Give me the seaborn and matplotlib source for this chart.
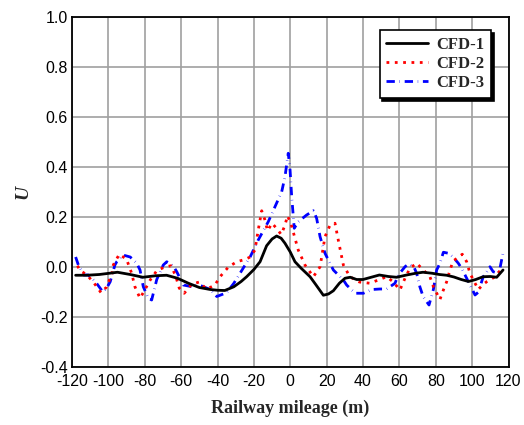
import numpy as np
import pandas as pd
import matplotlib
matplotlib.use("Agg")
import matplotlib.pyplot as plt
import seaborn as sns

# ---- data ----
x_cfd1 = [-118, -112, -105, -95, -88, -81, -74, -68, -62, -56, -50, -44, -40, -36, -31, -27, -24,
          -20, -16.6, -13, -10, -7.5, -5, -2.9, 0, 2.6, 6, 10.9, 14, 18.2, 21, 23.7, 27, 30.1, 33,
          36.5, 40, 44, 49, 54, 58.5, 64, 69, 73, 78, 82, 86, 90, 94, 98, 102, 106, 110, 113.5, 117]
y_cfd1 = [-0.033, -0.033, -0.030, -0.021, -0.030, -0.041, -0.035, -0.033, -0.045, -0.065, -0.082,
          -0.090, -0.093, -0.094, -0.079, -0.058, -0.039, -0.010, 0.021, 0.085, 0.112, 0.124, 0.115,
          0.095, 0.060, 0.021, -0.005, -0.039, -0.070, -0.113, -0.108, -0.095, -0.065, -0.045,
          -0.041, -0.050, -0.050, -0.042, -0.032, -0.038, -0.041, -0.032, -0.025, -0.021, -0.025,
          -0.030, -0.033, -0.040, -0.050, -0.058, -0.050, -0.039, -0.038, -0.041, -0.012]

x_cfd2 = [-117, -115.5, -112, -108, -104, -101, -98, -97.3, -94, -90, -87.2, -85.4, -82.6, -80,
          -77, -73.4, -69, -65.5, -63, -61, -58.3, -54.2, -50, -46, -41.4, -38.6, -34, -29.4, -25,
          -22, -19.4, -17.6, -15.7, -14, -12.5, -10, -7, -5, -3, -1.5, 0.5, 2.6, 4.4, 8.1, 12.7,
          16.4, 19.1, 21.9, 24.6, 26.4, 29.2, 32.8, 38, 43.8, 48.4, 53, 56.7, 60.3, 63.1, 65.8,
          69.5, 74.1, 76.8, 78.7, 82.3, 84.2, 86, 87.8, 89.6, 94.6, 97, 98.8, 101.6, 103.4, 106,
          108, 112.6, 117.1]
y_cfd2 = [0.005, -0.015, -0.030, -0.063, -0.103, -0.080, -0.025, 0.008, 0.051, 0.031, -0.025,
          -0.079, -0.125, -0.092, -0.052, -0.015, 0.000, 0.005, -0.036, -0.085, -0.105, -0.069,
          -0.060, -0.089, -0.072, -0.039, 0.000, 0.021, 0.030, 0.040, 0.068, 0.148, 0.225, 0.190,
          0.145, 0.175, 0.150, 0.130, 0.165, 0.205, 0.170, 0.115, 0.068, 0.008, -0.039, 0.001,
          0.121, 0.168, 0.175, 0.108, 0.008, -0.039, -0.060, -0.065, -0.052, -0.039, -0.060,
          -0.092, -0.045, -0.005, 0.015, -0.019, -0.039, -0.079, -0.130, -0.092, -0.059, -0.012,
          0.024, 0.051, 0.021, -0.025, -0.065, -0.090, -0.070, -0.059, -0.039, 0.001]

x_cfd3 = [-118, -116.5, -113.5, -111, -107, -103, -101, -99, -96.4, -95.4, -92, -88, -84.4, -82.6,
          -80.8, -78, -76.2, -73.4, -69.8, -67.9, -64.3, -62.4, -58.8, -54, -51.5, -48.7, -44,
          -40.4, -35, -31, -27.6, -22, -17.6, -12.1, -8.4, -4.7, -2.9, -1.1, -0.1, 0.8, 2.2, 4.4,
          9, 12.7, 14.5, 16.4, 19.1, 23.7, 29.2, 31, 33.8, 36, 40.2, 45, 49.3, 53, 57.6, 59.4,
          63.1, 65, 68, 69.5, 71.3, 73.1, 76.3, 78.7, 80.5, 82.3, 84.2, 86.9, 89.5, 92.4, 94.2,
          97, 98.8, 101.6, 103.4, 106.1, 107, 109.8, 111.6, 114.4, 115.3, 117.1]
y_cfd3 = [0.040, 0.008, -0.032, -0.032, -0.060, -0.100, -0.085, -0.059, 0.008, 0.021, 0.048,
          0.040, 0.015, -0.012, -0.079, -0.125, -0.132, -0.050, 0.008, 0.021, 0.004, -0.019,
          -0.072, -0.079, -0.072, -0.076, -0.090, -0.118, -0.103, -0.065, -0.025, 0.041, 0.108,
          0.181, 0.241, 0.301, 0.361, 0.455, 0.388, 0.281, 0.155, 0.181, 0.208, 0.225, 0.195,
          0.121, 0.055, -0.012, -0.052, -0.072, -0.092, -0.105, -0.105, -0.090, -0.088, -0.088,
          -0.065, -0.032, 0.001, 0.012, 0.000, -0.025, -0.080, -0.119, -0.152, -0.090, -0.012,
          0.015, 0.059, 0.055, 0.040, 0.015, -0.005, -0.045, -0.072, -0.112, -0.101, -0.039,
          -0.032, 0.001, -0.019, -0.025, -0.005, 0.060]

series_names = ["CFD-1", "CFD-2", "CFD-3"]
x_ticks = [-120, -100, -80, -60, -40, -20, 0, 20, 40, 60, 80, 100, 120]
y_ticks = [-0.4, -0.2, 0.0, 0.2, 0.4, 0.6, 0.8, 1.0]
x_label = "Railway mileage (m)"
y_label = "U"

# ---- styling ----
sns.set_theme(style="white")
plt.rcParams["font.family"] = ["Liberation Sans", "DejaVu Sans"]

fig = plt.figure(figsize=(5.24, 4.25), dpi=100)
ax = fig.add_axes([72 / 524, 58 / 425, 436.5 / 524, 350 / 425])

df1 = pd.DataFrame({"x": x_cfd1, "y": y_cfd1})
df2 = pd.DataFrame({"x": x_cfd2, "y": y_cfd2})
df3 = pd.DataFrame({"x": x_cfd3, "y": y_cfd3})

sns.lineplot(data=df1, x="x", y="y", ax=ax, color="black", linewidth=2.0,
             label=series_names[0], estimator=None, sort=False, zorder=5)
sns.lineplot(data=df2, x="x", y="y", ax=ax, color="#ff0000", linewidth=2.0,
             label=series_names[1], estimator=None, sort=False, zorder=4)
sns.lineplot(data=df3, x="x", y="y", ax=ax, color="#0000ff", linewidth=2.0,
             label=series_names[2], estimator=None, sort=False, zorder=3)
lines = ax.get_lines()
lines[1].set_linestyle((0, (1, 2)))
lines[1].set_dash_capstyle("butt")
lines[2].set_linestyle((0, (3, 1.7, 0.15, 1.7)))
lines[2].set_dash_capstyle("butt")

ax.set_xlim(-120, 120)
ax.set_ylim(-0.4, 1.0)
ax.set_xticks(x_ticks)
ax.set_xticklabels([str(v) for v in x_ticks])
ax.set_yticks(y_ticks)
ax.set_yticklabels([f"{v:.1f}" for v in y_ticks])

ax.grid(True, color="#a0a0a0", linewidth=1.2)
ax.set_axisbelow(True)
for s in ax.spines.values():
    s.set_color("black")
    s.set_linewidth(1.3)
    s.set_visible(True)

ax.tick_params(axis="both", direction="in", length=4, width=1.0, color="black",
               labelsize=11.5, labelcolor="black", pad=3)
ax.tick_params(axis="x", pad=5)

ax.set_xlabel(x_label, family=["Liberation Serif", "DejaVu Serif"], fontweight="bold",
              fontsize=13, labelpad=8)
ax.set_ylabel(y_label, family=["Liberation Serif", "DejaVu Serif"], fontweight="bold",
              fontstyle="italic", fontsize=14, labelpad=6)

leg = ax.legend(loc="upper right", bbox_to_anchor=(0.96, 0.963), borderaxespad=0,
                frameon=True, fancybox=False, shadow={"color": "black", "alpha": 1.0},
                prop={"family": ["Liberation Serif", "DejaVu Serif"], "weight": "bold", "size": 12},
                handlelength=2.5, handletextpad=0.5, labelspacing=0.2, borderpad=0.4)
leg.get_frame().set_edgecolor("black")
leg.get_frame().set_linewidth(1.2)
leg.get_frame().set_alpha(1.0)

fig.savefig("out.png", dpi=100)
